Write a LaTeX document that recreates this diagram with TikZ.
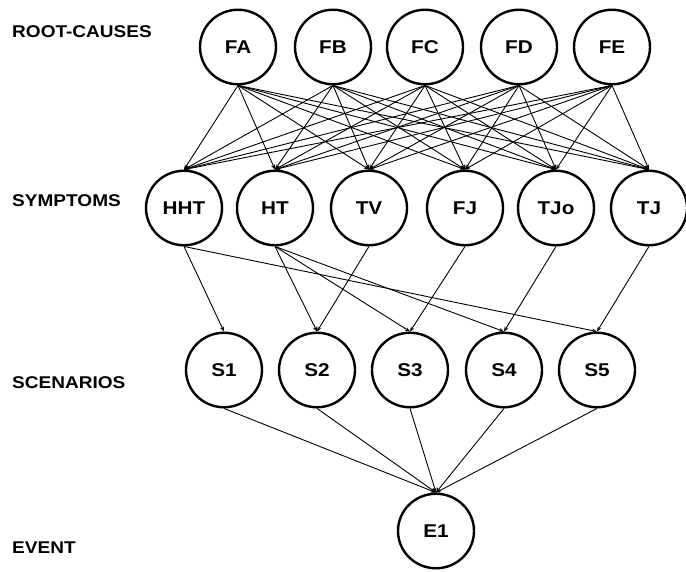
\documentclass[tikz,border=0pt]{standalone}
\usepackage{fontspec}
\setmainfont{Liberation Sans}
\usepackage{graphicx}
\usetikzlibrary{arrows.meta,shapes.geometric}
\newcommand{\wide}[1]{\scalebox{1.12}[1]{#1}}
\begin{document}
\begin{tikzpicture}[x=1pt,y=-1pt,
  var/.style={ellipse,draw,line width=2.4pt,minimum width=76pt,minimum height=74.5pt,
    inner sep=0pt,font=\fontsize{18.5}{18.5}\selectfont\bfseries},
  layer/.style={anchor=west,inner sep=0pt,font=\fontsize{17}{17}\selectfont\bfseries},
  link/.style={line width=0.9pt,-{Stealth[length=5pt,width=4pt]}}]
\useasboundingbox (0,0) rectangle (686,571);
% layer captions
\node[layer] (Lroot) at (12,32) {\wide{ROOT-CAUSES}};
\node[layer] (Lsym)  at (12,201) {\wide{SYMPTOMS}};
\node[layer] (Lscn)  at (12,383) {\wide{SCENARIOS}};
\node[layer] (Lev)   at (12,548) {\wide{EVENT}};
% root causes
\node[var] (FA) at (238,47) {\wide{FA}};
\node[var] (FB) at (333,47) {\wide{FB}};
\node[var] (FC) at (425,47) {\wide{FC}};
\node[var] (FD) at (519,47) {\wide{FD}};
\node[var] (FE) at (612,47) {\wide{FE}};
% symptoms
\node[var] (HHT) at (184,208) {\wide{HHT}};
\node[var] (HT)  at (275,208) {\wide{HT}};
\node[var] (TV)  at (369,208) {\wide{TV}};
\node[var] (FJ)  at (465,208) {\wide{FJ}};
\node[var] (TJo) at (556,208) {\wide{TJo}};
\node[var] (TJ)  at (649,208) {\wide{TJ}};
% scenarios
\node[var] (S1) at (224,370) {\wide{S1}};
\node[var] (S2) at (317,370) {\wide{S2}};
\node[var] (S3) at (410,370) {\wide{S3}};
\node[var] (S4) at (504,370) {\wide{S4}};
\node[var] (S5) at (597,370) {\wide{S5}};
% event
\node[var] (E1) at (436,531) {\wide{E1}};
% root causes -> symptoms
\foreach \r in {FA,FB,FC,FD,FE}
  \foreach \s in {HHT,HT,TV,FJ,TJo,TJ}
    \draw[link] (\r.south) -- (\s.north);
% symptoms -> scenarios
\draw[link] (HHT.south) -- (S1.north);
\draw[link] (HHT.south) -- (S5.north);
\draw[link] (HT.south) -- (S2.north);
\draw[link] (HT.south) -- (S3.north);
\draw[link] (HT.south) -- (S4.north);
\draw[link] (TV.south) -- (S2.north);
\draw[link] (FJ.south) -- (S3.north);
\draw[link] (TJo.south) -- (S4.north);
\draw[link] (TJ.south) -- (S5.north);
% scenarios -> event
\foreach \s in {S1,S2,S3,S4,S5}
  \draw[link] (\s.south) -- (E1.north);
\end{tikzpicture}
\end{document}
